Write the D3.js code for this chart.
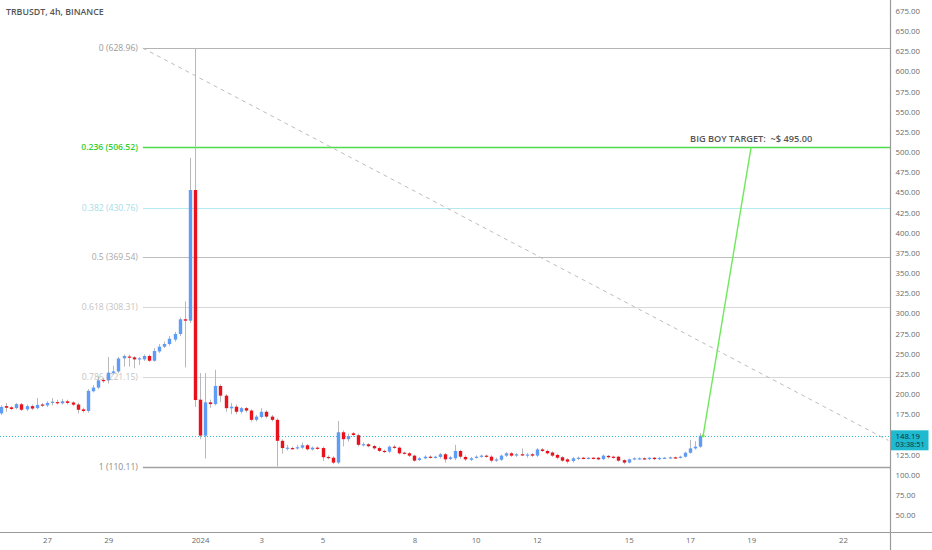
<!DOCTYPE html>
<html><head><meta charset="utf-8">
<script src="https://cdn.jsdelivr.net/npm/d3@7"></script>
<style>
body{margin:0;background:#fff;}
svg{display:block;font-family:"Open Sans","Noto Sans",sans-serif;}
</style>
</head><body>
<svg id="c" width="932" height="550"></svg>
<script>
// ---------------- DATA ----------------
const title = "TRBUSDT, 4h, BINANCE";
const startTime = "2023-12-25T12:00:00Z";   // first 4h candle
const candleHours = 4;
const opens = [176,185,183.5,182.5,187.3,181,185,182.5,187,186,189,190,188.5,191,189.5,187,181,179,203.5,208,
217.5,217,226,228,244.3,246.5,245.5,243,243,247.2,241.3,252.8,258.7,262,267.5,274.5,292.7,291,453,193,
148.3,189.7,187.5,210,198,182.3,184.3,178,182.5,179.5,168,171.5,178,172,168,142,132,133,132.5,133.5,
136.5,131.3,133.5,133,122,121,115,152.6,144,151.3,149,136.8,137.7,135.5,133,129.5,128.6,134.7,133.5,127.3,
126.5,123.6,118.2,120.3,122.3,121.2,122,125.3,119.5,120.3,129.4,122,118.5,121,122.3,123.6,122.3,117.4,118.5,123.6,
126.5,123.7,125.3,124.2,125.3,123.6,131.3,129.4,127.5,124.5,121.6,119,117,119.5,121,120,121,121,119.3,123.3,
122.3,122.3,118,115,119.1,119.5,120.3,119.3,121,119.3,120.5,120.8,121.5,121,122.3,127.2,132.6,134.7];
const highs = [186,189,185,189,189,187,187,195,189,191,195,193,194,193,191,189,183,206,211,222,
220,246,235,246,249,249,247,246,249,249,257,262,265,272,277,295,315,492.7,628.96,226,
226,193,230,212,200,189,187,184,184,181,174,182.5,180,174,170,144,137,135,137,140,
138,135,135,135,124,123,166.6,155,151,153,151,140,139,137,135,131,136,137,135,128.5,
128,125,122,124,124,123.5,127,127,123,137,131,124,122,124,125,125,124,121,125,128,
128,127,132.6,127,127,133,133,131,129,126,123,120.5,122,122.5,122,122,122,122,125,124.5,
123.5,123.5,119,120,121.5,121.5,121.5,122,122,122,122,122.5,122.5,123.5,128.5,143,141.5,151.5];
const lows = [174,178,180,181,179,179,180,181,184,184,186,187,187,187,185,176,177,177,202,206,
214,213,224,226,234,234,232,236,241,240,240,251,257,260,265,272,233,288,184,144,
120,183,186,190,178,175,175,176,177,166,166,170,170,166,110.11,126,130,131,131,132,
130,130,131,117,119,113,113,135,141,147,135,135,134,131,128,127,127,132,125,125,
122,116,117,119,120,120,120,115,118,118,120,117,117,120,121,121,115,116,117,122,
122,122,123,121,122,122,128,125,122,119,116,114,115,118,119,119,119,118,118,120,
120,116,113,114,118,118.5,118.5,118,118,118,119.5,120,119.5,120,121,126,131,133];
const closes = [184,183,181.5,187.5,180.5,185,182,186.5,185.5,189,190.5,189,191,189,186.8,180.5,179,204,208,217,
216,226.5,228,244,247.2,245.5,243,244.3,247.2,241.3,253.4,258.7,262,268.6,274.5,292.7,291,453,192.6,148.5,
189.7,187.5,210,198,182.5,184.3,178,182.5,179.5,168,172,178,172,168,142,133,133.5,132.5,134,136.5,
131.5,133.5,132.5,121.6,120.5,115,152.6,144,148,149.2,137,137.8,135.3,132.7,129.5,128.6,134.7,133.5,126.5,126.5,
123.6,117.4,120.3,122.3,121.2,122.3,125.3,119,121.5,129.4,122.3,119,120.3,122.3,123.6,122.3,117.4,119,123.6,126.5,
123.6,125.3,124.6,125,123.6,131.3,129.4,126.5,123.6,121,117.4,116.2,120.3,121,119.9,121,120,119,123.6,121.6,
121,117.4,115,119,120.3,120.3,119.5,121,119.3,120.7,121,121.5,120.8,122.3,127.2,132.6,134.7,148.19];

const priceTicks = [50,75,100,125,150,175,200,225,250,275,300,325,350,375,400,425,450,475,500,525,550,575,600,625,650,675];
const dateTicks = ["2023-12-27","2023-12-29","2024-01-01","2024-01-03","2024-01-05","2024-01-08","2024-01-10","2024-01-12","2024-01-15","2024-01-17","2024-01-19","2024-01-22"];
const dateTickLabels = ["27","29","2024","3","5","8","10","12","15","17","19","22"];

const fibLevels = [0, 0.236, 0.382, 0.5, 0.618, 0.786, 1];
const fibPrices = [628.96, 506.52, 430.76, 369.54, 308.31, 221.15, 110.11];
const fibTextColors = ["#9a9a9a","#33d033","#a6dde8","#a8a8a8","#c4c4c4","#c4c4c4","#8a8a8a"];
const fibLineColors = ["#b4b4b4","#4cdc4c","#b4eaf2","#bdbdbd","#d8d8d8","#d8d8d8","#a2a2a2"];
const fibStartTime = "2023-12-30T03:10:00Z";

const trendTimes = ["2023-12-30T03:10:00Z","2024-01-23T11:30:00Z"];
const trendPrices = [628.96, 142.5];

const targetTimes = ["2024-01-17T10:20:00Z","2024-01-19T00:00:00Z"];
const targetPrices = [148.19, 506.52];
const targetLabel = "BIG BOY TARGET:  ~$ 495.00";
const targetLabelPrice = 517;

const lastPrice = 148.19;
const countdown = "03:38:51";

// ---------------- CHART ----------------
const W = 932, H = 550, axisX = 890.5, axisY = 532;
const svg = d3.select("#c");
svg.append("rect").attr("width", W).attr("height", H).attr("fill", "#fff");

const x = d3.scaleUtc()
  .domain([new Date("2023-12-27T00:00:00Z"), new Date("2024-01-22T00:00:00Z")])
  .range([47, 843]);
const y = d3.scaleLinear().domain([50, 675]).range([515, 11]);

const t0 = new Date(startTime).getTime();
const candles = opens.map((o, i) => ({
  t: new Date(t0 + i * candleHours * 3600e3),
  o, h: highs[i], l: lows[i], c: closes[i]
}));

svg.append("defs").append("clipPath").attr("id", "plot")
  .append("rect").attr("x", 0).attr("y", 0).attr("width", axisX).attr("height", axisY);
const plot = svg.append("g").attr("clip-path", "url(#plot)");

// fib levels
const fibG = plot.append("g");
const fx0 = x(new Date(fibStartTime));
fibPrices.forEach((p, i) => {
  fibG.append("line")
    .attr("x1", fx0).attr("x2", axisX)
    .attr("y1", Math.round(y(p)) + 0.5).attr("y2", Math.round(y(p)) + 0.5)
    .attr("stroke", fibLineColors[i]).attr("stroke-width", (i === 6 || i === 1) ? 1.4 : 1);
  fibG.append("text")
    .attr("x", fx0 - 5).attr("y", y(p)).attr("dy", "0.35em")
    .attr("text-anchor", "end").attr("font-size", 8.6)
    .attr("font-weight", i === 1 ? 600 : 400)
    .attr("fill", fibTextColors[i])
    .text(`${fibLevels[i]} (${fibPrices[i].toFixed(2)})`);
});

// dashed trend line
plot.append("line")
  .attr("x1", x(new Date(trendTimes[0]))).attr("y1", y(trendPrices[0]))
  .attr("x2", x(new Date(trendTimes[1]))).attr("y2", y(trendPrices[1]))
  .attr("stroke", "#bdbdbd").attr("stroke-width", 1).attr("stroke-dasharray", "4,4");

// current price line
plot.append("line")
  .attr("x1", 0).attr("x2", axisX)
  .attr("y1", Math.round(y(lastPrice)) + 0.5).attr("y2", Math.round(y(lastPrice)) + 0.5)
  .attr("stroke", "#2bbfd3").attr("stroke-width", 1).attr("stroke-dasharray", "1,2");

// candles
const bw = 3.4;
const cg = plot.append("g");
cg.selectAll("line.w").data(candles).join("line").attr("class", "w")
  .attr("x1", d => Math.round(x(d.t)) + 0.5).attr("x2", d => Math.round(x(d.t)) + 0.5)
  .attr("y1", d => y(d.h)).attr("y2", d => y(d.l))
  .attr("stroke", "#b8b8b8").attr("stroke-width", 1);
cg.selectAll("rect.b").data(candles).join("rect").attr("class", "b")
  .attr("x", d => Math.round(x(d.t)) + 0.5 - bw / 2)
  .attr("width", bw)
  .attr("y", d => y(Math.max(d.o, d.c)))
  .attr("height", d => Math.max(1.2, Math.abs(y(d.o) - y(d.c))))
  .attr("fill", d => d.c >= d.o ? "#5e9cf5" : "#e8121c");

// target line
const tx1 = x(new Date(targetTimes[0])), ty1 = y(targetPrices[0]);
const tx2 = x(new Date(targetTimes[1])), ty2 = y(targetPrices[1]);
plot.append("line").attr("x1", tx1).attr("y1", ty1).attr("x2", tx2).attr("y2", ty2)
  .attr("stroke", "#6ee85a").attr("stroke-width", 1.4);
plot.append("circle").attr("cx", tx1).attr("cy", ty1).attr("r", 1.6).attr("fill", "#6ee85a");
plot.append("text").attr("x", tx2).attr("y", y(targetLabelPrice)).attr("dy", "0.35em")
  .attr("text-anchor", "middle").attr("font-size", 9.2).attr("font-weight", 600)
  .attr("fill", "#555").style("white-space", "pre").text(targetLabel);

// axes lines
svg.append("line").attr("x1", 0).attr("x2", W).attr("y1", axisY + 0.5).attr("y2", axisY + 0.5)
  .attr("stroke", "#9a9a9a").attr("stroke-width", 1.2);
svg.append("line").attr("x1", axisX).attr("x2", axisX).attr("y1", 0).attr("y2", H)
  .attr("stroke", "#9a9a9a").attr("stroke-width", 1.2);

// right axis
const ra = d3.axisRight(y).tickValues(priceTicks).tickFormat(d3.format(".2f")).tickSize(0).tickPadding(5);
const rg = svg.append("g").attr("transform", `translate(${axisX},0)`).call(ra);
rg.select(".domain").remove();
rg.selectAll("text").attr("font-size", 7.8).attr("fill", "#6a6a6a").attr("font-family", "'Open Sans',sans-serif");

// bottom axis
const ba = d3.axisBottom(x).tickValues(dateTicks.map(s => new Date(s + "T00:00:00Z")))
  .tickFormat((d, i) => dateTickLabels[i]).tickSize(0).tickPadding(5);
const bg = svg.append("g").attr("transform", `translate(0,${axisY})`).call(ba);
bg.select(".domain").remove();
bg.selectAll("text").attr("font-size", 7.8).attr("fill", "#6a6a6a").attr("font-family", "'Open Sans',sans-serif");

// last price tag
const py = y(lastPrice);
const tag = svg.append("g");
tag.append("rect").attr("x", axisX + 0.5).attr("y", py - 5.5).attr("width", 37.5).attr("height", 20).attr("fill", "#1fbad0");
tag.append("text").attr("x", axisX + 5).attr("y", py).attr("dy", "0.35em").attr("font-size", 7.8).attr("fill", "#0b2f3c").text(lastPrice.toFixed(2));
tag.append("text").attr("x", axisX + 5).attr("y", py + 8.5).attr("dy", "0.35em").attr("font-size", 7.4).attr("fill", "#0b2f3c").text(countdown);

// title
svg.append("text").attr("x", 6).attr("y", 12).attr("dy", "0.35em").attr("font-size", 8.8)
  .attr("font-weight", 600).attr("fill", "#555").text(title);
</script>
</body></html>
